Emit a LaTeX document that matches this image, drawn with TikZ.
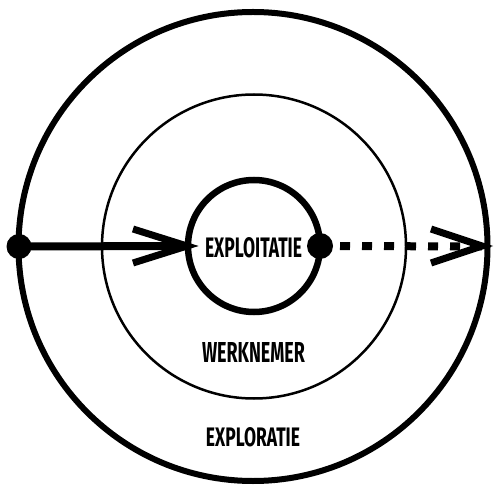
\documentclass[tikz,border=0pt]{standalone}
\usepackage{fontspec}
\setmainfont{Fira Sans}
\usetikzlibrary{calc}
\begin{document}
\begin{tikzpicture}[x=1pt,y=-1pt,
  ring/.style={circle,draw=black,inner sep=0pt,outer sep=0pt},
  dot/.style={circle,fill=black,inner sep=0pt,outer sep=0pt},
  lbl/.style={inner sep=0pt,outer sep=0pt},
  chev/.style={draw=black,line width=7pt,line join=miter,line cap=butt},
  solidline/.style={draw=black,line width=8pt},
  dashline/.style={draw=black,line width=8pt,dash pattern=on 10pt off 12pt,dash phase=15pt}]
\useasboundingbox (0,0) rectangle (495,486);
\node[ring,line width=6pt,minimum size=469pt] (outer) at (253,246.5) {};
\node[ring,line width=2.5pt,minimum size=304pt] (middle) at (254,246.5) {};
\node[ring,line width=6.5pt,minimum size=132pt] (inner) at (254,246) {};
\node[dot,minimum size=25pt] (ldot) at (19,246.5) {};
\node[dot,minimum size=26pt] (rdot) at (320,246) {};
% solid arrow
\draw[solidline] (ldot.center) -- (inner.west);
\coordinate (tipA) at (187,246);
\draw[chev] ($(tipA)+(-54,-17)$) -- (tipA) -- ($(tipA)+(-54,17)$);
% dashed arrow
\draw[dashline] (rdot.east) -- (outer.east);
\coordinate (tipB) at (482,246);
\draw[chev] ($(tipB)+(-51,-17)$) -- (tipB) -- ($(tipB)+(-51,17)$);
% labels
\node[lbl] (t1) at (253.5,248) {\resizebox{97pt}{20pt}{\bfseries EXPLOITATIE}};
\node[lbl] (t2) at (253.5,352) {\resizebox{103pt}{20pt}{\bfseries WERKNEMER}};
\node[lbl] (t3) at (253,437.5) {\resizebox{94pt}{19pt}{\bfseries EXPLORATIE}};
\end{tikzpicture}
\end{document}
